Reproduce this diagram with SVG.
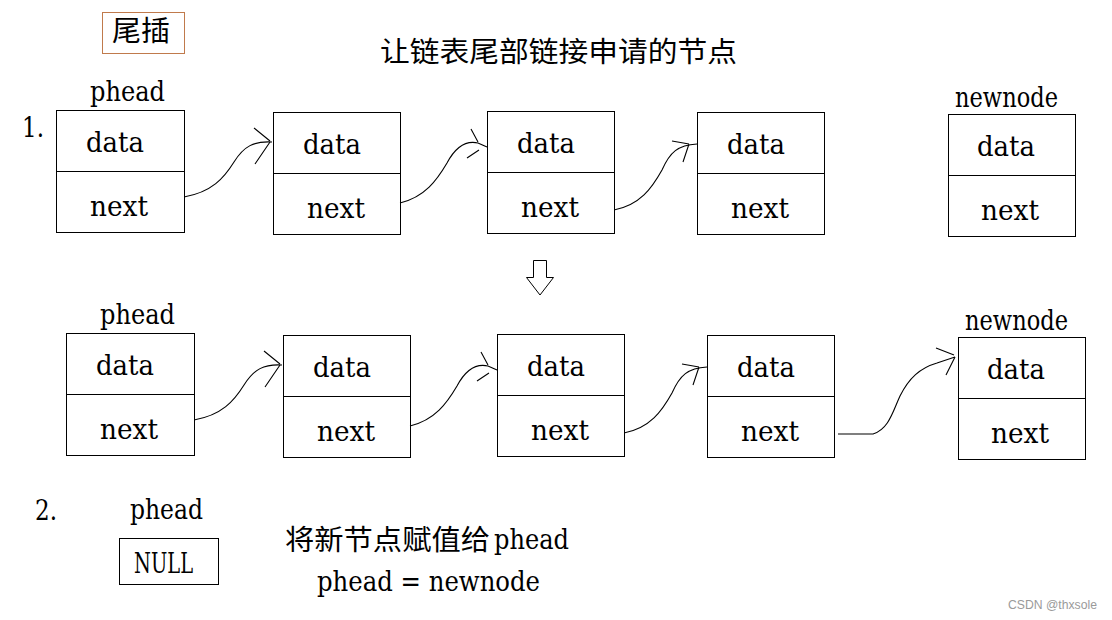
<svg xmlns="http://www.w3.org/2000/svg" width="1112" height="620" viewBox="0 0 1112 620">
<defs>
<style>
.bg{fill:#fff}
.box{fill:#fff;stroke:#000;stroke-width:1}
.div{stroke:#000;stroke-width:1}
.t{font-family:"DejaVu Serif","Liberation Serif",serif;font-size:28px;fill:#000}
.cjk{font-family:"Noto Sans CJK SC","Noto Sans CJK JP",sans-serif;font-size:28px;fill:#000}
.con{fill:none;stroke:#000;stroke-width:1.1}
.wm{font-family:"Liberation Sans",Arial,sans-serif;font-size:12px;fill:#9a9a9a}
</style>
</defs>
<rect class="bg" x="0" y="0" width="1112" height="620"/>

<g id="title-tag">
<rect x="102.5" y="12.5" width="82" height="41" fill="none" stroke="#c07a4c" stroke-width="1"/>
<text class="cjk" x="112" y="41" textLength="58" lengthAdjust="spacingAndGlyphs">尾插</text>
</g>
<g id="title">
<text class="cjk" x="380" y="62" textLength="357" lengthAdjust="spacingAndGlyphs">让链表尾部链接申请的节点</text>
</g>

<g id="step1-label"><text class="t" x="22" y="137" font-size="20" textLength="22" lengthAdjust="spacingAndGlyphs">1.</text></g>

<!-- Row 1 -->
<g id="r1-n1">
<text class="t" x="90" y="101" textLength="75" lengthAdjust="spacingAndGlyphs">phead</text>
<rect class="box" x="56.5" y="110.5" width="128" height="122"/>
<line class="div" x1="56.5" y1="171.5" x2="184.5" y2="171.5"/>
<text class="t" x="86" y="152" textLength="58" lengthAdjust="spacingAndGlyphs">data</text>
<text class="t" x="90" y="216" textLength="58" lengthAdjust="spacingAndGlyphs">next</text>
</g>
<g id="r1-n2">
<rect class="box" x="273.5" y="112.5" width="127" height="122"/>
<line class="div" x1="273.5" y1="173.5" x2="400.5" y2="173.5"/>
<text class="t" x="303" y="154" textLength="58" lengthAdjust="spacingAndGlyphs">data</text>
<text class="t" x="307" y="218" textLength="58" lengthAdjust="spacingAndGlyphs">next</text>
</g>
<g id="r1-n3">
<rect class="box" x="487.5" y="111.5" width="127" height="122"/>
<line class="div" x1="487.5" y1="172.5" x2="614.5" y2="172.5"/>
<text class="t" x="517" y="153" textLength="58" lengthAdjust="spacingAndGlyphs">data</text>
<text class="t" x="521" y="217" textLength="58" lengthAdjust="spacingAndGlyphs">next</text>
</g>
<g id="r1-n4">
<rect class="box" x="697.5" y="112.5" width="127" height="122"/>
<line class="div" x1="697.5" y1="173.5" x2="824.5" y2="173.5"/>
<text class="t" x="727" y="154" textLength="58" lengthAdjust="spacingAndGlyphs">data</text>
<text class="t" x="731" y="218" textLength="58" lengthAdjust="spacingAndGlyphs">next</text>
</g>
<g id="r1-newnode">
<text class="t" x="955" y="107" textLength="103" lengthAdjust="spacingAndGlyphs">newnode</text>
<rect class="box" x="948.5" y="114.5" width="127" height="122"/>
<line class="div" x1="948.5" y1="175.5" x2="1075.5" y2="175.5"/>
<text class="t" x="977" y="156" textLength="58" lengthAdjust="spacingAndGlyphs">data</text>
<text class="t" x="981" y="220" textLength="58" lengthAdjust="spacingAndGlyphs">next</text>
</g>

<g id="down-arrow">
<polygon points="533.5,260.5 546.5,260.5 546.5,277.5 553.5,277.5 540,295 526.5,277.5 533.5,277.5" fill="#fff" stroke="#000" stroke-width="1"/>
</g>

<!-- Row 2 -->
<g id="r2-n1">
<text class="t" x="100" y="324" textLength="75" lengthAdjust="spacingAndGlyphs">phead</text>
<rect class="box" x="66.5" y="333.5" width="128" height="122"/>
<line class="div" x1="66.5" y1="394.5" x2="194.5" y2="394.5"/>
<text class="t" x="96" y="375" textLength="58" lengthAdjust="spacingAndGlyphs">data</text>
<text class="t" x="100" y="439" textLength="58" lengthAdjust="spacingAndGlyphs">next</text>
</g>
<g id="r2-n2">
<rect class="box" x="283.5" y="335.5" width="127" height="122"/>
<line class="div" x1="283.5" y1="396.5" x2="410.5" y2="396.5"/>
<text class="t" x="313" y="377" textLength="58" lengthAdjust="spacingAndGlyphs">data</text>
<text class="t" x="317" y="441" textLength="58" lengthAdjust="spacingAndGlyphs">next</text>
</g>
<g id="r2-n3">
<rect class="box" x="497.5" y="334.5" width="127" height="122"/>
<line class="div" x1="497.5" y1="395.5" x2="624.5" y2="395.5"/>
<text class="t" x="527" y="376" textLength="58" lengthAdjust="spacingAndGlyphs">data</text>
<text class="t" x="531" y="440" textLength="58" lengthAdjust="spacingAndGlyphs">next</text>
</g>
<g id="r2-n4">
<rect class="box" x="707.5" y="335.5" width="127" height="122"/>
<line class="div" x1="707.5" y1="396.5" x2="834.5" y2="396.5"/>
<text class="t" x="737" y="377" textLength="58" lengthAdjust="spacingAndGlyphs">data</text>
<text class="t" x="741" y="441" textLength="58" lengthAdjust="spacingAndGlyphs">next</text>
</g>
<g id="r2-newnode">
<text class="t" x="965" y="330" textLength="103" lengthAdjust="spacingAndGlyphs">newnode</text>
<rect class="box" x="958.5" y="337.5" width="127" height="122"/>
<line class="div" x1="958.5" y1="398.5" x2="1085.5" y2="398.5"/>
<text class="t" x="987" y="379" textLength="58" lengthAdjust="spacingAndGlyphs">data</text>
<text class="t" x="991" y="443" textLength="58" lengthAdjust="spacingAndGlyphs">next</text>
</g>

<g id="connectors">
<!-- row 1 -->
<path class="con" d="M184,197 C212,192 224,178 234,162 C244,146 254,141 272,142"/>
<path class="con" d="M254,128 L270,141 M255,164 L270,142"/>
<path class="con" d="M400,203 C425,197 437,180 447,163 C455,148 465,140 478,143 L487,147"/>
<path class="con" d="M471,129 L478,142 M467,158 L479,150"/>
<path class="con" d="M614,210 C640,205 652,188 662,170 C670,152 678,145 697,144"/>
<path class="con" d="M672,141 L689,144 M683,162 L689,144"/>
<!-- row 2 -->
<path class="con" d="M194,420 C222,415 234,401 244,385 C254,369 264,364 282,365"/>
<path class="con" d="M264,351 L280,364 M265,387 L280,365"/>
<path class="con" d="M410,426 C435,420 447,403 457,386 C465,371 475,363 488,366 L497,370"/>
<path class="con" d="M481,352 L488,365 M477,381 L489,373"/>
<path class="con" d="M624,433 C650,428 662,411 672,393 C680,375 688,368 707,367"/>
<path class="con" d="M682,364 L699,367 M693,385 L699,367"/>
<path class="con" stroke-width="1.5" d="M838,434 L873,434 C889,429 893,411 900,396 C909,378 920,368 937,363 L955,357"/>
<path class="con" stroke-width="1.5" d="M936,348 L954,355 M946,375 L955,357"/>
</g>

<!-- Step 2 -->
<g id="step2-label"><text class="t" x="35" y="520" font-size="26" textLength="22" lengthAdjust="spacingAndGlyphs">2.</text></g>
<g id="null-node">
<text class="t" x="130" y="519" textLength="73" lengthAdjust="spacingAndGlyphs">phead</text>
<rect class="box" x="119.5" y="538.5" width="99" height="46"/>
<text class="t" x="134" y="573" font-size="30" textLength="59" lengthAdjust="spacingAndGlyphs">NULL</text>
</g>
<g id="assign-note">
<text class="cjk" x="285" y="550" textLength="205" lengthAdjust="spacingAndGlyphs">将新节点赋值给</text>
<text class="t" x="494" y="549" textLength="75" lengthAdjust="spacingAndGlyphs">phead</text>
<text class="t" x="317" y="591" textLength="223" lengthAdjust="spacingAndGlyphs">phead = newnode</text>
</g>

<g id="watermark"><text class="wm" x="1008" y="609" textLength="89" lengthAdjust="spacingAndGlyphs">CSDN @thxsole</text></g>
</svg>
